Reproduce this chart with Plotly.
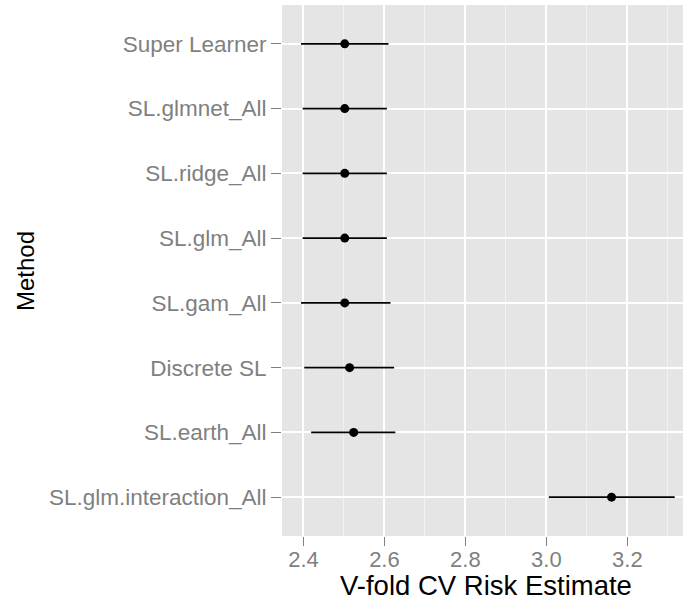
import plotly.graph_objects as go

# Cross-validated risk per method, listed top to bottom
methods = [
    "Super Learner",
    "SL.glmnet_All",
    "SL.ridge_All",
    "SL.glm_All",
    "SL.gam_All",
    "Discrete SL",
    "SL.earth_All",
    "SL.glm.interaction_All",
]
risk = [2.502, 2.502, 2.502, 2.502, 2.502, 2.514, 2.524, 3.161]
ci_lower = [2.394, 2.398, 2.398, 2.398, 2.394, 2.402, 2.419, 3.006]
ci_upper = [2.610, 2.606, 2.606, 2.606, 2.615, 2.624, 2.627, 3.317]

x_ticks = [2.4, 2.6, 2.8, 3.0, 3.2]
x_tick_labels = ["2.4", "2.6", "2.8", "3.0", "3.2"]

err_plus = [u - r for u, r in zip(ci_upper, risk)]
err_minus = [r - l for r, l in zip(risk, ci_lower)]

W, H = 683, 603
ML, MR, MT, MB = 282, 0, 5, 67
FONT = "Liberation Sans, Arial, sans-serif"

fig = go.Figure()
fig.add_trace(
    go.Scatter(
        x=risk,
        y=methods,
        mode="markers",
        marker=dict(symbol="circle", size=9, color="black"),
        error_x=dict(
            type="data",
            symmetric=False,
            array=err_plus,
            arrayminus=err_minus,
            width=0,
            thickness=1.6,
            color="black",
        ),
        showlegend=False,
        hoverinfo="x+y",
    )
)

fig.update_layout(
    width=W,
    height=H,
    margin=dict(l=ML, r=MR, t=MT, b=MB),
    paper_bgcolor="white",
    plot_bgcolor="#E5E5E5",
    font=dict(family=FONT),
    xaxis=dict(
        range=[2.347, 3.3375],
        tickvals=x_ticks,
        ticktext=x_tick_labels,
        tickfont=dict(size=22, color="#7F7F7F"),
        ticks="outside",
        ticklen=9,
        tickwidth=1,
        tickcolor="#7F7F7F",
        ticklabelstandoff=-5,
        showgrid=True,
        gridcolor="white",
        gridwidth=1.6,
        minor=dict(
            tickvals=[2.5, 2.7, 2.9, 3.1, 3.3],
            showgrid=True,
            gridcolor="#F2F2F2",
            gridwidth=1,
            ticks="",
        ),
        zeroline=False,
        showline=False,
    ),
    yaxis=dict(
        type="category",
        categoryorder="array",
        categoryarray=methods,
        range=[7.6, -0.6],
        tickfont=dict(size=22.5, color="#7F7F7F"),
        ticks="outside",
        ticklen=10,
        tickwidth=1,
        tickcolor="#7F7F7F",
        showgrid=True,
        gridcolor="white",
        gridwidth=1.6,
        zeroline=False,
        showline=False,
    ),
    annotations=[
        dict(
            text="V-fold CV Risk Estimate",
            xref="paper",
            yref="paper",
            x=(486 - ML) / (W - ML - MR),
            y=(H - MB - 585) / (H - MT - MB),
            xanchor="center",
            yanchor="middle",
            showarrow=False,
            font=dict(size=27.5, color="black", family=FONT),
        ),
        dict(
            text="Method",
            xref="paper",
            yref="paper",
            x=(25 - ML) / (W - ML - MR),
            y=(H - MB - 271) / (H - MT - MB),
            xanchor="center",
            yanchor="middle",
            textangle=-90,
            showarrow=False,
            font=dict(size=24, color="black", family=FONT),
        ),
    ],
)

fig.write_html("out.html")
